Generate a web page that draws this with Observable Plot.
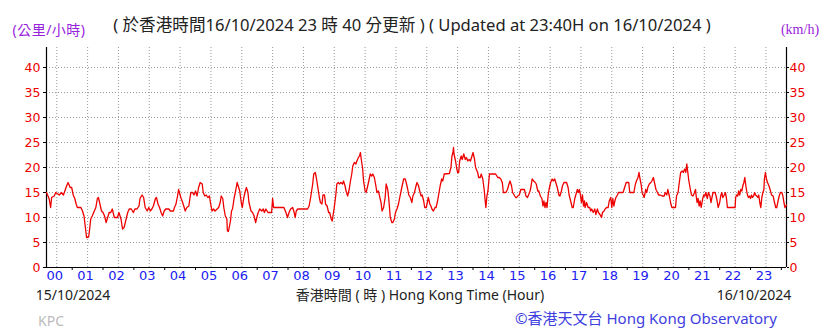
<!DOCTYPE html>
<html><head><meta charset="utf-8">
<script src="https://cdn.jsdelivr.net/npm/d3@7"></script>
<script src="https://cdn.jsdelivr.net/npm/@observablehq/plot@0.6"></script>
<style>
html,body{margin:0;padding:0;background:#fff;}
#wrap{position:relative;width:838px;height:331px;overflow:hidden;font-family:"Noto Sans","Noto Sans CJK TC",sans-serif;}
#wrap svg{position:absolute;left:0;top:0;}
.t{position:absolute;white-space:nowrap;line-height:1;transform:translate(-50%,-50%);}
</style></head><body><div id="wrap"></div>
<script>
// Texts
const titleText = "( 於香港時間16/10/2024 23 時 40 分更新 ) ( Updated at 23:40H on 16/10/2024 )";
const unitLeft = "(公里/小時)";
const unitRight = "(km/h)";
const dateStart = "15/10/2024";
const dateEnd = "16/10/2024";
const xTitle = "香港時間 ( 時 ) Hong Kong Time (Hour)";
const stationCode = "KPC";
const credit = "©香港天文台 Hong Kong Observatory";

// Tick labels
const yTicks = [0, 5, 10, 15, 20, 25, 30, 35, 40];
const hourLabels = ["00","01","02","03","04","05","06","07","08","09","10","11","12","13","14","15","16","17","18","19","20","21","22","23"];

// Time window: minutes from 00:00 (23:40 previous day to 23:40)
const windowStart = -20;
const windowEnd = 1420;

// Wind speed series: minutes from 00:00 and speed (km/h)
const minutes = [
-20,-15,-12,-10,-5,-2,5,9,13,18,22,26,29,32,35,38,40,47,50,53,56,58,62,64,66,69,73,76,79,81,84,87,90,93,96,99,102,105,108,112,118,121,125,128,131,134,138,141,145,149,152,156,160,162,
163,166,169,172,176,179,182,185,188,192,194,197,200,203,206,209,212,218,221,227,229,232,235,237,240,242,245,248,250,253,257,259,261,264,267,270,273,276,279,283,285,288,291,294,297,299,302,305,308,312,315,318,320,323,325,328,331,332,334,338,340,
342,345,348,351,354,356,359,361,364,367,369,372,374,378,381,384,387,390,392,395,399,402,404,407,411,418,420,422,442,446,449,452,455,459,462,464,466,469,488,491,494,498,500,503,505,508,511,513,516,518,521,523,526,529,
531,534,536,537,540,543,545,548,550,553,556,558,561,563,566,569,571,574,576,579,582,584,587,589,591,592,595,597,600,602,605,608,610,613,615,618,621,623,626,628,631,633,636,639,641,644,646,649,652,654,657,659,662,665,667,670,672,675,678,680,683,685,688,691,693,696,699,701,704,707,709,711,
714,716,719,721,723,726,728,730,733,736,738,741,743,746,749,751,754,764,767,769,771,772,773,776,778,780,782,784,787,789,792,795,797,800,802,805,808,810,813,815,819,821,824,826,829,832,833,835,837,839,842,854,858,861,864,867,869,874,877,880,882,885,887,890,893,
895,897,900,903,910,913,916,918,921,923,925,928,931,933,936,938,941,944,946,948,950,952,954,956,958,961,964,966,969,971,974,977,979,982,984,987,992,995,997,1000,1003,1005,1008,1010,1013,1015,1017,1019,1021,1023,1025,1027,1028,1031,1034,1037,1039,1041,1044,1047,1049,1052,1054,1057,1060,1062,1065,1067,1070,1073,1075,1078,
1080,1082,1084,1086,1088,1091,1093,1102,1105,1108,1113,1115,1123,1126,1128,1131,1133,1135,1137,1139,1141,1143,1144,1146,1148,1150,1153,1156,1158,1161,1163,1166,1169,1171,1174,1178,1182,1184,1187,1189,1192,1195,1197,1204,1206,1209,1211,1214,1217,1219,1222,1224,1226,1228,1230,1233,1235,1238,1241,1243,1244,1246,1248,1250,1252,1254,
1257,1259,1261,1263,1266,1268,1271,1273,1275,1277,1281,1283,1285,1287,1290,1292,1294,1296,1299,1301,1303,1305,1320,1321,1323,1325,1327,1329,1331,1333,1335,1337,1339,1340,1342,1344,1346,1348,1350,1352,1354,1356,1358,1360,1362,1364,1366,1368,1370,1372,1374,1376,1377,1379,1381,1383,1386,1388,1391,1394,1396,1399,1401,1403,1405,1408,1411,1413,1415,1417,1420
];
const speed = [
15,13.8,12,14,14.3,15,14.5,15,14.5,16,17,16,16,14.5,13.8,12.6,12,12,11.3,10.3,7.7,6,6.1,7.7,9.7,10.3,11.3,12,13.8,14,12.7,11.3,11,10.3,9,10,11,11,11.7,10,10,11,9.7,7.7,8,9.3,11,11.7,11.7,11,11.7,11.7,12.3,13.8,
14,14.5,14,12,11.3,12,11.3,11.7,12.3,13.8,14,12.7,12,11,10.3,11.3,11.7,11.7,11.3,11.3,12,12.7,14.3,15.6,14.5,13.8,13,12,11.3,12,12.3,13.8,15,15,14.5,15.3,14.3,16,17,16.7,15,14.3,14.5,14,14.3,13,11.3,11.7,11.3,11.7,12,13,14.3,13.8,12,10.3,9.7,7.3,7.2,9.3,11.3,
11.7,13.8,15.3,17,16,15.3,13,12,14,15.3,16,15,13,11.3,11,10.3,9,10.3,11,11.7,11.3,11.7,11,11.7,11,11,13.8,12,12,11,10,11,11.7,12,11,10,11.3,11.7,11.7,12.3,14,16.7,18.7,19,18,16,14,13,12.7,14.5,14.5,12.7,12.3,11,
11,9.7,9.3,10,12,14.5,16.7,17,16.7,17,16.7,17.3,16.3,15.3,14.3,15.6,17,18.7,20.3,21,20.7,21.3,22,22.3,23,22,20,17.3,15.3,15,16.3,17.7,18.7,18.3,18.7,18,16.3,15,15.3,14.3,13,11.3,12,14,16.7,15.6,13.8,10,9,9,9.7,11,11.7,12.7,13.8,15.3,16.3,17.7,17.7,17,15.6,14.5,14,13,14.3,15,16.3,17,16.3,15,14.3,14.5,
13.3,12,12,13,14,12.7,12.3,11.7,11.3,12,12,13.3,14.5,16.3,17.7,17.3,18.7,18.8,20,22.3,23,24,22.7,21.3,20,19,19,21.3,22.3,21.6,22.7,21.6,22,21.3,21.6,21.3,22.3,23,21.6,20,19,18,18,18.7,17.7,15.3,14,12,14.3,15.3,18.7,18.7,18,18,17.7,17,15,15,15.6,16.7,17.3,16.3,15,14.5,14,
14,14.3,14.5,15.6,15.6,14.3,14,14.5,15.3,16.3,17.7,17.3,17,16.7,15.3,15.3,14.3,13.8,12.3,13.3,12,13,12,14.3,15.6,17,17.7,17.3,17.7,17,16,14.5,14.3,15.3,16.3,17,17,16,14.5,13.3,12,12,13.8,14.5,15.6,15,15.6,14.5,13,14.5,12.3,13.3,12,13,12,12,11.3,11.7,11,11.7,10.6,11.7,11,10.6,10,11,11.3,11.7,12,12,13.3,14,
12,13.8,12.3,13.3,14,14.5,15,15,16,17,17,15,15,16.7,17.3,18,19,17.7,16.7,15,14.5,14,14.5,15.6,15,16,16.7,17,17.3,18,17,15.6,15,14.5,14.5,14.3,14.3,15,14.5,15.6,14.3,12.7,12,12,14.3,15,16.7,19,19.3,19,19.7,19,20.7,19,17.3,15.6,14.5,14.3,15,15.6,14.5,13,13.8,12.3,13.3,12,
13.8,14.5,14.3,15,13.8,15,14.3,13,14,15,15,14.3,13.3,12,13,14.3,15,14,14.5,15,14,12,12,14,14.5,14.3,15.3,14.5,15.6,15.3,16.3,17,18,17,15.6,14.5,14,14.3,13.8,14.5,14,14.3,15,14.5,14.3,14,14.5,13,12,14,15,15.6,17.7,19,17.7,17,16.3,15.6,14.5,14.3,13.3,12,12,13,14,15,15,14.3,13,12,12.5
];

const data = minutes.map((m, i) => ({hour: m / 60, kmh: speed[i]}));
const hours = hourLabels.map(h => +h);
const halfHours = hours.map(h => h + 0.5).filter(h => h < windowEnd / 60);
const xMin = windowStart / 60, xMax = windowEnd / 60;

const plot = Plot.plot({
  width: 838, height: 331,
  marginLeft: 46, marginRight: 52, marginTop: 47, marginBottom: 64,
  x: {domain: [xMin, xMax]},
  y: {domain: [0, 44]},
  style: {fontFamily: "DejaVu Sans, sans-serif", fontSize: "12.5px", background: "transparent", overflow: "visible"},
  marks: [
    Plot.gridY({ticks: yTicks.filter(d => d > 0), stroke: "#999", strokeOpacity: 1, strokeDasharray: "1,2"}),
    Plot.gridX({ticks: hours, stroke: "#999", strokeOpacity: 1, strokeDasharray: "1,2"}),
    Plot.axisY({anchor: "left", ticks: yTicks, tickSize: 3, tickPadding: 3, fill: "#ee0000", stroke: "#000", label: null}),
    Plot.axisY({anchor: "right", ticks: yTicks, tickSize: 2, tickPadding: 1, fill: "#ee0000", stroke: "#000", label: null}),
    Plot.axisX({ticks: hours, tickFormat: d => hourLabels[Math.round(d)], tickSize: 0, tickPadding: 3, fill: "#2020f0", label: null, dx: -2, fontSize: 13}),
    Plot.axisX({ticks: halfHours, tickFormat: () => "", tickSize: 3, label: null}),
    Plot.ruleX([xMin, xMax], {stroke: "#000", strokeWidth: 1.2}),
    Plot.ruleY([0], {stroke: "#000", strokeWidth: 1.2}),
    Plot.line(data, {x: "hour", y: "kmh", stroke: "#ee0000", strokeWidth: 1.3})
  ]
});
const wrap = document.getElementById("wrap");
wrap.appendChild(plot);

function addText(txt, x, y, css) {
  const s = document.createElement("span");
  s.className = "t";
  s.textContent = txt;
  s.style.left = x + "px";
  s.style.top = y + "px";
  Object.assign(s.style, css || {});
  wrap.appendChild(s);
}
addText(titleText, 412, 25, {fontSize: "16.6px", color: "#222"});
addText(unitLeft, 49, 30, {fontSize: "14px", color: "#9922dd", letterSpacing: "0.5px"});
addText(unitRight, 800, 30, {fontSize: "14px", color: "#9922dd", fontFamily: "'Liberation Serif', serif"});
addText(dateStart, 73, 295, {fontSize: "14px", color: "#222"});
addText(xTitle, 420, 295, {fontSize: "14px", color: "#222"});
addText(dateEnd, 754, 295, {fontSize: "14px", color: "#222"});
addText(stationCode, 51, 321, {fontSize: "14px", color: "#bbb"});
addText(credit, 646, 318, {fontSize: "15px", color: "#4040e0"});
</script></body></html>
